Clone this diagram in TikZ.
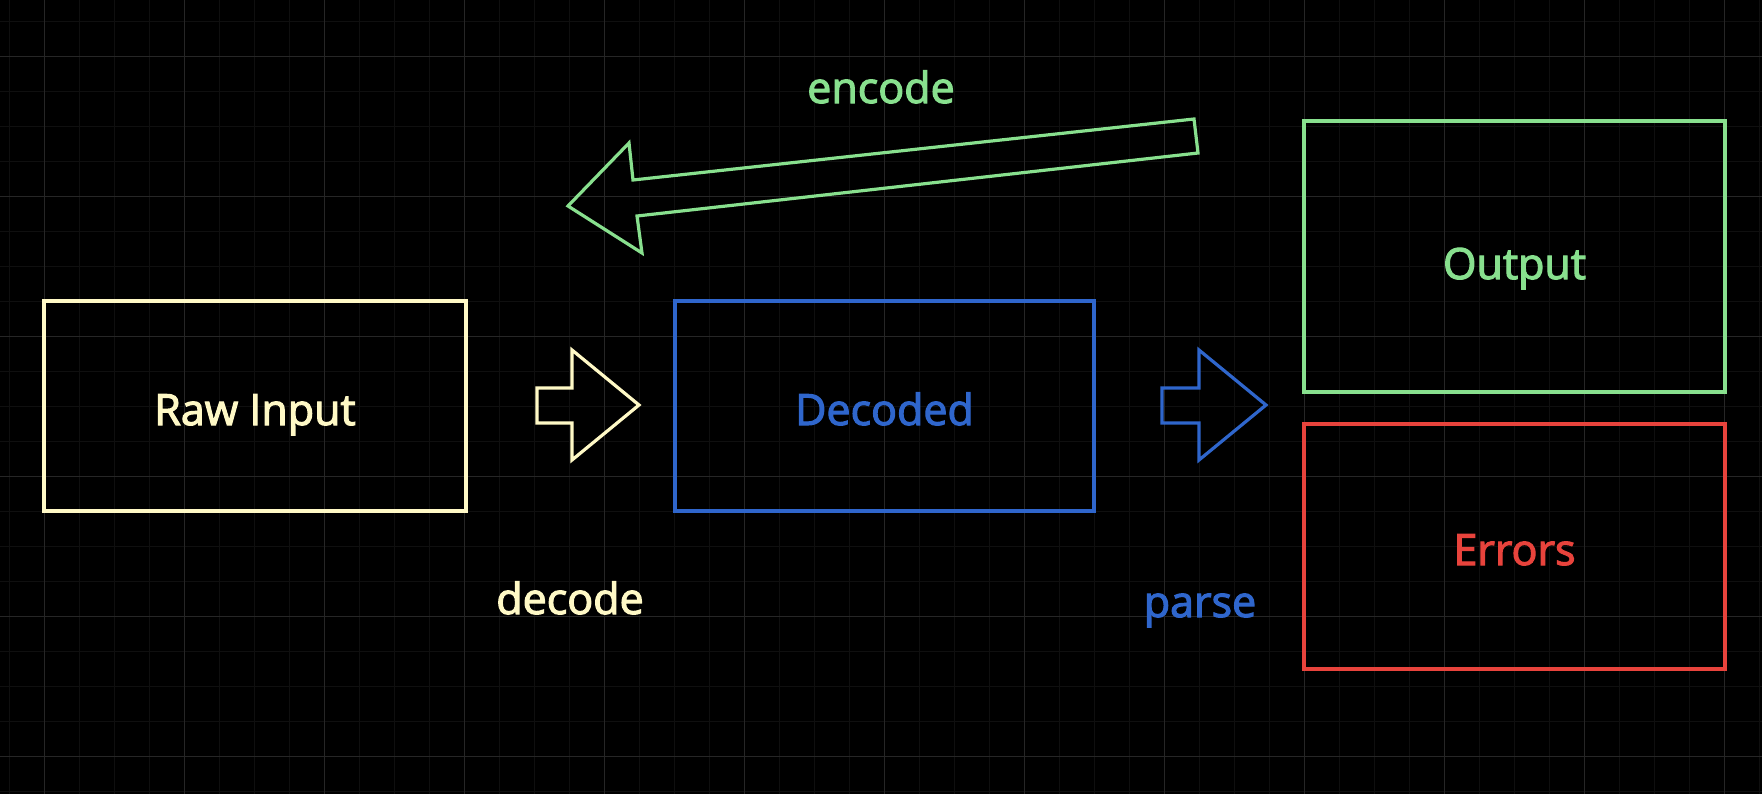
\documentclass[tikz,border=0pt]{standalone}
\usepackage{fontspec}
\setmainfont{Open Sans}
\newfontfamily\lblfont{Open Sans}[FakeBold=2.6]
\definecolor{cyel}{HTML}{FFF9C6}
\definecolor{cblue}{HTML}{2F66CC}
\definecolor{cgreen}{HTML}{88E08E}
\definecolor{cred}{HTML}{E8433C}
\definecolor{gminor}{HTML}{0F0F0F}
\definecolor{gmajor}{HTML}{262626}
\begin{document}
\begin{tikzpicture}[x=0.5pt,y=-0.5pt,
  box/.style={draw=#1,line width=1.6pt,inner sep=0pt},
  lbl/.style={text=#1,font=\lblfont\fontsize{21.5}{26}\selectfont,anchor=base,inner sep=0pt},
  blockarrow/.style={draw=#1,line width=1.6pt,line join=miter}]
% background
\fill[black] (0,0) rectangle (1762,794);
\useasboundingbox (0,0) rectangle (1762,794);
% grid
\foreach \i in {0,...,50} {\draw[gminor,line width=0.5pt] ({9+35*\i},0) -- ({9+35*\i},794);}
\foreach \i in {0,...,22} {\draw[gminor,line width=0.5pt] (0,{21.5+35*\i}) -- (1762,{21.5+35*\i});}
\foreach \i in {0,...,12} {\draw[gmajor,line width=0.5pt] ({44+140*\i},0) -- ({44+140*\i},794);}
\foreach \i in {0,...,5} {\draw[gmajor,line width=0.5pt] (0,{56.5+140*\i}) -- (1762,{56.5+140*\i});}
% boxes
\node[box=cyel,minimum width=211pt,minimum height=105pt] (raw) at (255,406) {};
\node[box=cblue,minimum width=209.5pt,minimum height=105pt] (dec) at (884.5,406) {};
\node[box=cgreen,minimum width=210.5pt,minimum height=135.5pt] (out) at (1514.5,256.5) {};
\node[box=cred,minimum width=210.5pt,minimum height=122.5pt] (err) at (1514.5,546.5) {};
% box texts
\node[lbl=cyel] (rawt) at (255,425) {Raw Input};
\node[lbl=cblue] (dect) at (884.5,425) {Decoded};
\node[lbl=cgreen] (outt) at (1514.5,279) {Output};
\node[lbl=cred] (errt) at (1514.5,565) {Errors};
% block arrows
\draw[blockarrow=cyel] (537,388) -- (572,388) -- (572,350) -- (639,405) -- (572,460) -- (572,423) -- (537,423) -- cycle;
\draw[blockarrow=cblue] (1162,388) -- (1199,388) -- (1199,350) -- (1266,405) -- (1199,460) -- (1199,423) -- (1162,423) -- cycle;
\draw[blockarrow=cgreen] (568,206) -- (629,143) -- (633,180) -- (1194,119) -- (1198,153) -- (637,216) -- (642,253) -- cycle;
% labels
\node[lbl=cgreen] (enc) at (881,103) {encode};
\node[lbl=cyel] (decl) at (570,614) {decode};
\node[lbl=cblue] (parl) at (1200,617) {parse};
\end{tikzpicture}
\end{document}
